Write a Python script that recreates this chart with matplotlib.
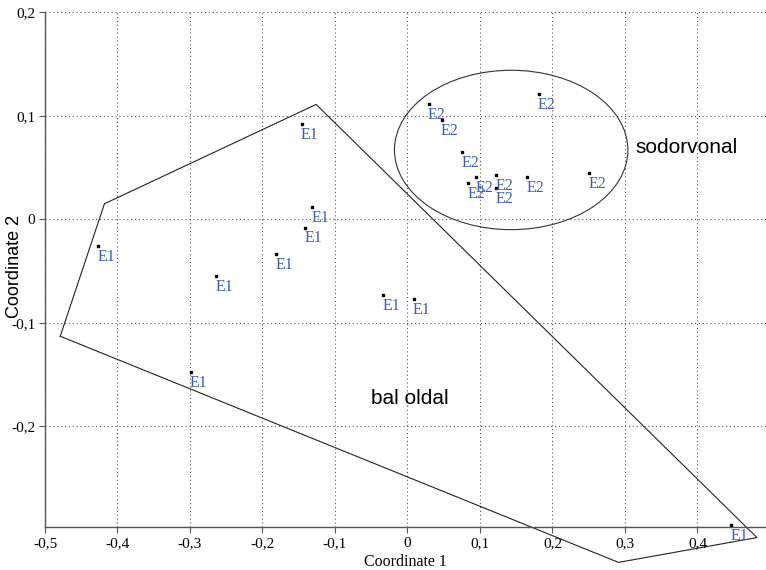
import matplotlib.pyplot as plt
from matplotlib.patches import Ellipse

# E1 points (bal oldal)
e1_x = [-0.146, -0.132, -0.141, -0.427, -0.181, -0.264, -0.034, 0.0085, -0.299, 0.446]
e1_y = [0.092, 0.012, -0.008, -0.026, -0.034, -0.055, -0.073, -0.077, -0.148, -0.2955]

# E2 points (sodorvonal)
e2_x = [0.029, 0.047, 0.181, 0.075, 0.095, 0.084, 0.122, 0.122, 0.165, 0.251]
e2_y = [0.111, 0.096, 0.121, 0.065, 0.041, 0.035, 0.0425, 0.0305, 0.041, 0.045]

# convex hull drawn around group E1
hull_x = [-0.479, -0.418, -0.126, 0.482, 0.291, -0.479]
hull_y = [-0.113, 0.015, 0.111, -0.3075, -0.3315, -0.113]

# ellipse around group E2: centre, width, height
ell_center = (0.143, 0.067)
ell_w, ell_h = 0.322, 0.154

xticks = [-0.5, -0.4, -0.3, -0.2, -0.1, 0, 0.1, 0.2, 0.3, 0.4]
xticklabels = ["-0,5", "-0,4", "-0,3", "-0,2", "-0,1", "0", "0,1", "0,2", "0,3", "0,4"]
yticks = [-0.2, -0.1, 0, 0.1, 0.2]
yticklabels = ["-0,2", "-0,1", "0", "0,1", "0,2"]

serif = "Liberation Serif"
sans = "Liberation Sans"
blue = "#3d5cb8"

fig = plt.figure(figsize=(7.66, 5.70), dpi=100)
ax = fig.add_axes([45 / 766, 1 - 527 / 570, 721 / 766, 514.7 / 570])
ax.set_xlim(-0.5, 0.4945)
ax.set_ylim(-0.2973, 0.2)

ax.grid(True, linestyle=(0, (1, 2.5)), color="#555555", linewidth=0.8)
ax.set_axisbelow(True)
for s in ["top", "right"]:
    ax.spines[s].set_visible(False)
for s in ["left", "bottom"]:
    ax.spines[s].set_color("#555555")
    ax.spines[s].set_linewidth(1.0)

ax.set_xticks(xticks)
ax.set_xticklabels(xticklabels, family=serif, fontsize=11)
ax.set_yticks(yticks)
ax.set_yticklabels(yticklabels, family=serif, fontsize=11)
ax.tick_params(direction="out", length=4, color="#555555", pad=3)

ax.plot(hull_x, hull_y, color="#222222", linewidth=0.8, clip_on=False)
ax.add_patch(Ellipse(ell_center, ell_w, ell_h, fill=False, edgecolor="#333333", linewidth=0.8))

ax.plot(e1_x, e1_y, "s", color="black", markersize=1.6, clip_on=False)
ax.plot(e2_x, e2_y, "s", color="black", markersize=1.6, clip_on=False)
for x, y in zip(e1_x, e1_y):
    ax.annotate("E1", (x, y), xytext=(-0.5, -2), textcoords="offset points",
                ha="left", va="top", family=serif, fontsize=11.5, color=blue,
                annotation_clip=False)
for x, y in zip(e2_x, e2_y):
    ax.annotate("E2", (x, y), xytext=(-0.5, -2), textcoords="offset points",
                ha="left", va="top", family=serif, fontsize=11.5, color=blue,
                annotation_clip=False)

ax.text(0.314, 0.0698, "sodorvonal", family=sans, fontsize=15, va="center", ha="left")
ax.text(0.003, -0.1736, "bal oldal", family=sans, fontsize=15, va="center", ha="center")

ax.set_xlabel("Coordinate 1", family=serif, fontsize=11.5, labelpad=3)
fig.text(15 / 766, 1 - 266 / 570, "Coordinate 2", family=sans, fontsize=13,
         rotation=90, ha="center", va="center")

fig.savefig("out.png", dpi=100)
